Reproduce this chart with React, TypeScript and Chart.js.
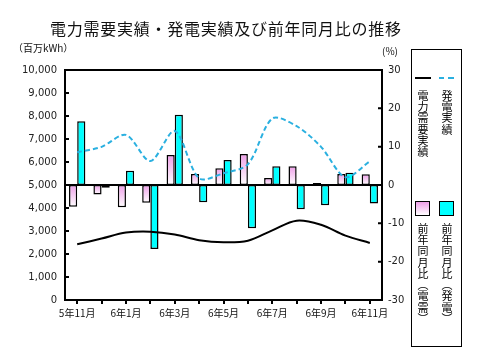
import React, { useEffect, useRef } from 'react';
import { Chart, registerables } from 'chart.js';

Chart.register(...registerables);

const categories = ['5年11月', '5年12月', '6年1月', '6年2月', '6年3月', '6年4月', '6年5月', '6年6月', '6年7月', '6年8月', '6年9月', '6年10月', '6年11月'];
const demand = [2420, 2670, 2930, 2970, 2850, 2600, 2510, 2580, 3030, 3450, 3270, 2800, 2480];
const generation = [6420, 6660, 7180, 6040, 7350, 5290, 5510, 5900, 7890, 7560, 6660, 5340, 6030];
const demandYoY = [-5.7, -2.5, -5.8, -4.6, 7.8, 2.9, 4.4, 8.1, 1.8, 4.9, 0.5, 2.9, 2.8];
const genYoY = [16.6, -0.7, 3.7, -16.7, 18.3, -4.5, 6.5, -11.3, 4.9, -6.3, -5.3, 3.2, -4.8];

const PINK = '#ee9ee8';
const CYAN = '#00ffff';
const DASH_BLUE = '#2ab0e0';
const JP = "'Noto Sans CJK JP', 'Noto Sans', sans-serif";

const pinkBg = (c: any) => {
  const chart = c.chart;
  const s = chart.scales && chart.scales.y1;
  if (!s || c.raw == null || typeof c.raw !== 'number') return PINK;
  const yv = s.getPixelForValue(c.raw);
  const y0 = s.getPixelForValue(0);
  const top = Math.min(yv, y0);
  const bot = Math.max(yv, y0);
  if (!isFinite(top) || !isFinite(bot) || bot - top < 1) return PINK;
  const g = chart.ctx.createLinearGradient(0, top, 0, bot);
  g.addColorStop(0, PINK);
  g.addColorStop(1, '#ffffff');
  return g;
};

const framePlugin = {
  id: 'frame',
  beforeDatasetsDraw(chart: any) {
    const { ctx, chartArea: a, scales } = chart;
    const y0 = scales.y1.getPixelForValue(0);
    ctx.save();
    ctx.strokeStyle = '#000';
    ctx.lineWidth = 2;
    ctx.beginPath();
    ctx.moveTo(a.left, y0);
    ctx.lineTo(a.right, y0);
    ctx.stroke();
    ctx.restore();
  },
  afterDraw(chart: any) {
    const { ctx, chartArea: a, scales } = chart;
    ctx.save();
    ctx.strokeStyle = '#000';
    ctx.lineWidth = 2;
    ctx.strokeRect(a.left, a.top, a.right - a.left, a.bottom - a.top);
    ctx.beginPath();
    scales.y.ticks.forEach((_t: any, i: number) => {
      const p = scales.y.getPixelForTick(i);
      ctx.moveTo(a.left, p);
      ctx.lineTo(a.left + 4, p);
    });
    scales.y1.ticks.forEach((_t: any, i: number) => {
      const p = scales.y1.getPixelForTick(i);
      ctx.moveTo(a.right - 4, p);
      ctx.lineTo(a.right, p);
    });
    ctx.stroke();
    ctx.restore();
  },
};

function ChartCanvas() {
  const ref = useRef<HTMLCanvasElement | null>(null);
  useEffect(() => {
    if (!ref.current) return;
    const chart = new Chart(ref.current, {
      type: 'bar',
      data: {
        labels: categories,
        datasets: [
          {
            type: 'line',
            label: '電力需要実績',
            data: demand,
            yAxisID: 'y',
            borderColor: '#000',
            borderWidth: 2,
            pointRadius: 0,
            tension: 0.35,
            fill: false,
            order: 0,
          } as any,
          {
            type: 'line',
            label: '発電実績',
            data: generation,
            yAxisID: 'y',
            borderColor: DASH_BLUE,
            borderWidth: 2,
            borderDash: [5, 3],
            pointRadius: 0,
            tension: 0.3,
            fill: false,
            order: 0,
          } as any,
          {
            type: 'bar',
            label: '前年同月比（電需）',
            data: demandYoY,
            yAxisID: 'y1',
            backgroundColor: pinkBg,
            borderColor: '#000',
            borderWidth: 1.5,
            borderSkipped: false,
            barPercentage: 1,
            categoryPercentage: 0.67,
            order: 1,
          } as any,
          {
            type: 'bar',
            label: '前年同月比（発電）',
            data: genYoY,
            yAxisID: 'y1',
            backgroundColor: CYAN,
            borderColor: '#000',
            borderWidth: 1.5,
            borderSkipped: false,
            barPercentage: 1,
            categoryPercentage: 0.67,
            order: 1,
          } as any,
        ],
      },
      options: {
        responsive: false,
        animation: false,
        layout: { padding: { left: 0, right: 68, top: 70, bottom: 25 } },
        plugins: {
          legend: { display: false },
          tooltip: { enabled: false },
          title: { display: false },
        },
        scales: {
          x: {
            type: 'category',
            offset: true,
            grid: {
              display: true,
              drawOnChartArea: false,
              drawTicks: true,
              tickLength: 4,
              offset: false,
              color: '#000',
              lineWidth: 2,
            },
            border: { display: true, color: '#000', width: 2 },
            ticks: {
              autoSkip: false,
              maxRotation: 0,
              minRotation: 0,
              padding: 3,
              color: '#111',
              font: { family: JP, size: 10 },
              callback: (_v: any, i: number) => (i % 2 === 0 ? categories[i] : ''),
            },
            afterFit: (s: any) => {
              s.height = 30;
            },
          },
          y: {
            position: 'left',
            min: 0,
            max: 10000,
            grid: { display: false, drawTicks: false },
            border: { display: true, color: '#000', width: 2 },
            ticks: {
              stepSize: 1000,
              padding: 8,
              color: '#222',
              font: { family: 'DejaVu Sans', size: 10 },
              callback: (v: any) => Number(v).toLocaleString('en-US'),
            },
            afterFit: (s: any) => {
              s.width = 65;
            },
          },
          y1: {
            position: 'right',
            min: -30,
            max: 30,
            grid: { display: false, drawTicks: false },
            border: { display: true, color: '#000', width: 2 },
            ticks: {
              stepSize: 10,
              padding: 6,
              color: '#222',
              font: { family: 'DejaVu Sans', size: 10 },
            },
            afterFit: (s: any) => {
              s.width = 30;
            },
          },
        },
      } as any,
      plugins: [framePlugin],
    });
    return () => chart.destroy();
  }, []);
  return <canvas ref={ref} width={480} height={355} style={{ position: 'absolute', left: 0, top: 0 }} />;
}

const vText: React.CSSProperties = {
  position: 'absolute',
  writingMode: 'vertical-rl',
  fontFamily: JP,
  fontSize: 11,
  lineHeight: '12px',
  width: 12,
  letterSpacing: '0.3px',
  color: '#000',
  whiteSpace: 'nowrap',
};

export default function App() {
  return (
    <div style={{ position: 'fixed', left: 0, top: 0, width: 480, height: 355, background: '#fff', overflow: 'hidden' }}>
      <ChartCanvas />
      <div
        style={{
          position: 'absolute',
          left: 50,
          top: 19,
          fontFamily: JP,
          fontSize: 16,
          lineHeight: '18px',
          letterSpacing: '0.75px',
          color: '#111',
          whiteSpace: 'nowrap',
        }}
      >
        電力需要実績・発電実績及び前年同月比の推移
      </div>
      <div style={{ position: 'absolute', left: 13, top: 42, fontFamily: JP, fontSize: 10, lineHeight: '12px', color: '#111', whiteSpace: 'nowrap' }}>
        （百万kWh）
      </div>
      <div style={{ position: 'absolute', left: 382, top: 45, fontFamily: JP, fontSize: 10, lineHeight: '12px', color: '#111', whiteSpace: 'nowrap' }}>
        (%)
      </div>
      {/* legend */}
      <div style={{ position: 'absolute', left: 411, top: 49, width: 49, height: 296, border: '1px solid #000' }} />
      <div style={{ position: 'absolute', left: 415, top: 77, width: 16, height: 2, background: '#000' }} />
      <div style={{ position: 'absolute', left: 439, top: 77, width: 5, height: 2, background: DASH_BLUE }} />
      <div style={{ position: 'absolute', left: 448, top: 77, width: 6, height: 2, background: DASH_BLUE }} />
      <div style={{ ...vText, left: 417, top: 90 }}>電力需要実績</div>
      <div style={{ ...vText, left: 441, top: 90 }}>発電実績</div>
      <div
        style={{
          position: 'absolute',
          left: 415,
          top: 201,
          width: 13,
          height: 13,
          border: '1.5px solid #000',
          background: `linear-gradient(to bottom, ${PINK}, #ffffff)`,
        }}
      />
      <div style={{ position: 'absolute', left: 439, top: 201, width: 13, height: 13, border: '1.5px solid #000', background: CYAN }} />
      <div style={{ ...vText, left: 417, top: 223 }}>前年同月比（電需）</div>
      <div style={{ ...vText, left: 441, top: 223 }}>前年同月比（発電）</div>
    </div>
  );
}
